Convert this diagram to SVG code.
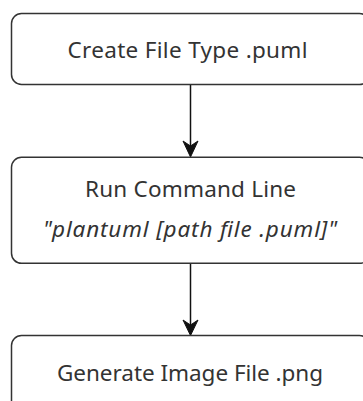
<svg xmlns="http://www.w3.org/2000/svg" width="363" height="401" viewBox="0 0 363 401">
<style>
.box{fill:#ffffff;stroke:#333333;stroke-width:1.5}
.t{font-family:"Noto Sans","Open Sans",sans-serif;font-size:22.5px;fill:#333333;text-anchor:middle}
.i{font-style:italic}
.line{stroke:#111111;stroke-width:1.5;fill:none}
.head{fill:#111111;stroke:#111111;stroke-width:1}
</style>
<rect width="363" height="401" fill="#ffffff"/>
<g id="connectors">
<line class="line" x1="190.5" y1="85" x2="190.5" y2="150"/>
<polygon class="head" points="183,141 190.5,157 198,141 190.5,146"/>
<line class="line" x1="190.5" y1="264" x2="190.5" y2="328"/>
<polygon class="head" points="183,320 190.5,335.5 198,320 190.5,325"/>
</g>
<g id="node1">
<rect class="box" x="11.5" y="13.5" width="358" height="71" rx="10"/>
<text class="t" x="187.5" y="58" textLength="240" lengthAdjust="spacing">Create File Type .puml</text>
</g>
<g id="node2">
<rect class="box" x="11.5" y="157.3" width="358" height="106" rx="10"/>
<text class="t" x="190.5" y="196.5" textLength="211" lengthAdjust="spacing">Run Command Line</text>
<text class="t i" x="190" y="236.5" textLength="294" lengthAdjust="spacing">"plantuml [path file .puml]"</text>
</g>
<g id="node3">
<rect class="box" x="11.5" y="335.5" width="358" height="100" rx="10"/>
<text class="t" x="190" y="380.5" textLength="266" lengthAdjust="spacing">Generate Image File .png</text>
</g>
</svg>
